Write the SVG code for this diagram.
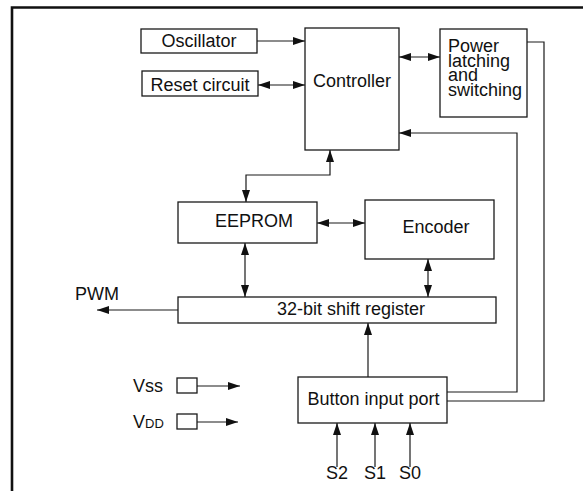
<svg xmlns="http://www.w3.org/2000/svg" width="583" height="491" viewBox="0 0 583 491">
<defs>
<style>
.box{fill:#fff;stroke:#1a1a1a;stroke-width:1.3}
.t{font-family:"Liberation Sans",Arial,sans-serif;font-size:18px;fill:#111}
.m{text-anchor:middle}
.c{fill:none;stroke:#1a1a1a;stroke-width:1.2}
</style>
<marker id="ah" viewBox="0 0 12 8" refX="12" refY="4" markerUnits="userSpaceOnUse" markerWidth="12" markerHeight="8" orient="auto-start-reverse">
<path d="M0,0 L12,4 L0,8 z" fill="#111"/>
</marker>
</defs>
<rect width="583" height="491" fill="#fff"/>
<path d="M12,491 V7.5 H583" fill="none" stroke="#111" stroke-width="2.6"/>

<g id="connectors">
<path class="c" d="M257,41 H305" marker-end="url(#ah)"/>
<path class="c" d="M258,85 H305" marker-start="url(#ah)" marker-end="url(#ah)"/>
<path class="c" d="M399,57 H440" marker-start="url(#ah)" marker-end="url(#ah)"/>
<path class="c" d="M527,42 H544 V401 H447"/>
<path class="c" d="M447,392 H517 V133 H399" marker-end="url(#ah)"/>
<path class="c" d="M330,150 V175 H246 V202" marker-start="url(#ah)" marker-end="url(#ah)"/>
<path class="c" d="M317,223 H365" marker-start="url(#ah)" marker-end="url(#ah)"/>
<path class="c" d="M245,243 V297" marker-start="url(#ah)" marker-end="url(#ah)"/>
<path class="c" d="M428,259 V297" marker-start="url(#ah)" marker-end="url(#ah)"/>
<path class="c" d="M178,310 H97" marker-end="url(#ah)"/>
<path class="c" d="M368,377 V323" marker-end="url(#ah)"/>
<path class="c" d="M337,467 V423" marker-end="url(#ah)"/>
<path class="c" d="M375,467 V423" marker-end="url(#ah)"/>
<path class="c" d="M410,467 V423" marker-end="url(#ah)"/>
<path class="c" d="M197,386 H240" marker-end="url(#ah)"/>
<path class="c" d="M197,422 H238" marker-end="url(#ah)"/>
</g>

<g id="oscillator">
<rect class="box" x="141" y="29" width="116" height="24"/>
<text class="t m" x="199" y="47">Oscillator</text>
</g>
<g id="reset">
<rect class="box" x="142" y="71" width="116" height="25"/>
<text class="t m" x="200" y="91">Reset circuit</text>
</g>
<g id="controller">
<rect class="box" x="305" y="28" width="94" height="122"/>
<text class="t m" x="352" y="87">Controller</text>
</g>
<g id="power">
<rect class="box" x="440" y="29" width="87" height="88"/>
<text class="t" x="448" y="52">Power</text>
<text class="t" x="448" y="67">latching</text>
<text class="t" x="448" y="81">and</text>
<text class="t" x="448" y="96">switching</text>
</g>
<g id="eeprom">
<rect class="box" x="178" y="202" width="139" height="41"/>
<text class="t m" x="254" y="227">EEPROM</text>
</g>
<g id="encoder">
<rect class="box" x="365" y="200" width="129" height="59"/>
<text class="t m" x="436" y="233">Encoder</text>
</g>
<g id="shift">
<rect class="box" x="178" y="297" width="318" height="26"/>
<text class="t m" x="351" y="315">32-bit shift register</text>
</g>
<g id="button">
<rect class="box" x="298" y="377" width="149" height="46"/>
<text class="t m" x="373.5" y="405">Button input port</text>
</g>
<g id="pwm">
<text class="t" x="75" y="300">PWM</text>
</g>
<g id="vss">
<text class="t" x="133" y="392">Vss</text>
<rect class="box" x="177" y="378" width="20" height="15"/>
</g>
<g id="vdd">
<text class="t" x="133" y="428">V<tspan font-size="13">DD</tspan></text>
<rect class="box" x="177" y="414" width="20" height="15"/>
</g>
<g id="s2"><text class="t m" x="337" y="479">S2</text></g>
<g id="s1"><text class="t m" x="375" y="479">S1</text></g>
<g id="s0"><text class="t m" x="410" y="479">S0</text></g>
</svg>
